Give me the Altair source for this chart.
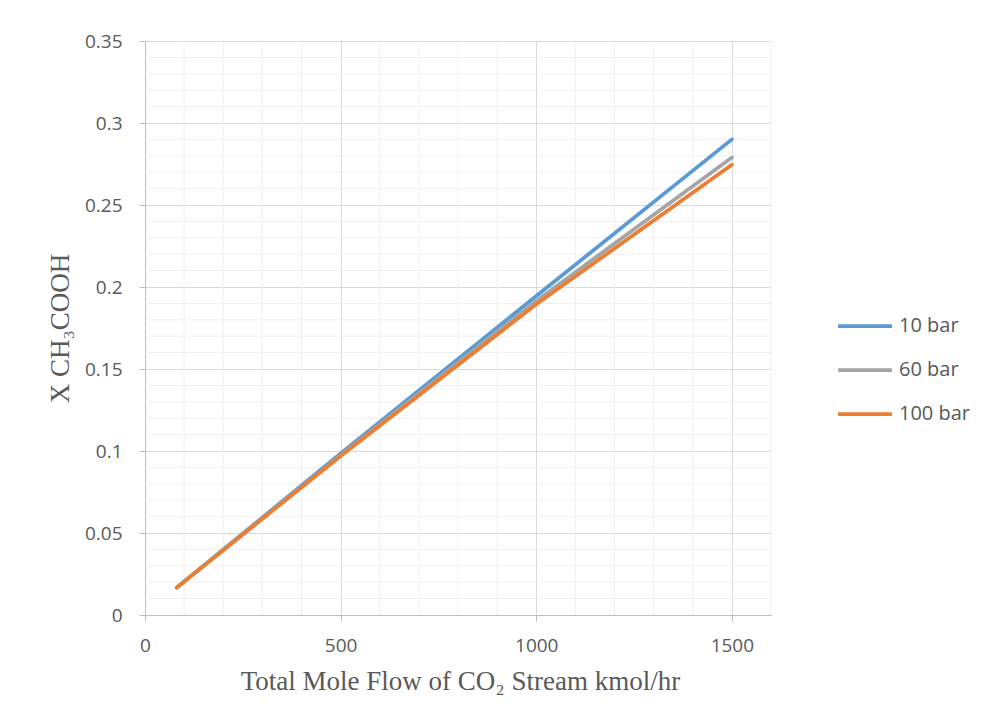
import altair as alt
import pandas as pd

# ---- data ----
flow = [81, 500, 1000, 1500]
x10 = [0.0167, 0.0985, 0.1945, 0.290]
x60 = [0.0167, 0.0975, 0.1915, 0.279]
x100 = [0.0167, 0.0970, 0.1895, 0.2745]
series = ["10 bar", "60 bar", "100 bar"]
colors = ["#5B9BD5", "#A5A5A5", "#ED7D31"]

x_ticks = [0, 500, 1000, 1500]
y_ticks = [0, 0.05, 0.1, 0.15, 0.2, 0.25, 0.3, 0.35]
x_minor = [100, 200, 300, 400, 600, 700, 800, 900, 1100, 1200, 1300, 1400, 1600]
y_minor = [0.01, 0.02, 0.03, 0.04, 0.06, 0.07, 0.08, 0.09, 0.11, 0.12, 0.13, 0.14,
           0.16, 0.17, 0.18, 0.19, 0.21, 0.22, 0.23, 0.24, 0.26, 0.27, 0.28, 0.29,
           0.31, 0.32, 0.33, 0.34]

rows = []
for name, vals in zip(series, [x10, x60, x100]):
    for f, v in zip(flow, vals):
        rows.append({"flow": f, "x": v, "series": name})
df = pd.DataFrame(rows)

LABEL_FONT = "Open Sans"
TITLE_FONT = "Liberation Serif"
TXT = "#595959"

xscale = alt.Scale(domain=[0, 1600], nice=False, zero=False)
yscale = alt.Scale(domain=[0, 0.35], nice=False)

xaxis = alt.Axis(
    values=x_ticks,
    format="d",
    title="Total Mole Flow of CO₂ Stream kmol/hr",
    titleFont=TITLE_FONT,
    titleFontSize=27,
    titleFontWeight="normal",
    titleColor=TXT,
    titlePadding=13,
    titleX=315,
    labelFont=LABEL_FONT,
    labelFontSize=19,
    labelColor=TXT,
    labelPadding=15,
    tickSize=6,
    tickColor="#BFBFBF",
    domainColor="#BFBFBF",
    gridColor="#D9D9D9",
    labelFlush=False,
)
yaxis = alt.Axis(
    values=y_ticks,
    format="~g",
    title="X CH₃COOH",
    titleFont=TITLE_FONT,
    titleFontSize=27,
    titleFontWeight="normal",
    titleColor=TXT,
    titlePadding=10,
    labelFont=LABEL_FONT,
    labelFontSize=19,
    labelColor=TXT,
    labelPadding=17,
    tickSize=6,
    tickColor="#BFBFBF",
    domainColor="#BFBFBF",
    gridColor="#D9D9D9",
    labelFlush=False,
)

vminor = alt.Chart(pd.DataFrame({"flow": x_minor})).mark_rule(
    color="#EFEFEF", strokeWidth=1
).encode(x=alt.X("flow:Q", scale=xscale, axis=xaxis))

hminor = alt.Chart(pd.DataFrame({"x": y_minor})).mark_rule(
    color="#EFEFEF", strokeWidth=1
).encode(y=alt.Y("x:Q", scale=yscale, axis=yaxis))

lines = alt.Chart(df).mark_line(strokeWidth=3.75, strokeCap="round").encode(
    x=alt.X("flow:Q", scale=xscale, axis=xaxis),
    y=alt.Y("x:Q", scale=yscale, axis=yaxis),
    color=alt.Color(
        "series:N",
        scale=alt.Scale(domain=series, range=colors),
        legend=alt.Legend(
            title=None,
            orient="none",
            legendX=691,
            legendY=272,
            symbolType="stroke",
            symbolSize=2900,
            symbolStrokeWidth=3.75,
            labelFont=LABEL_FONT,
            labelFontSize=20,
            labelColor=TXT,
            labelOffset=5,
            clipHeight=26,
            rowPadding=18,
        ),
    ),
    order=alt.Order("flow:Q"),
)

chart = alt.layer(vminor, hminor, lines).properties(
    width=626,
    height=574,
    padding={"left": 145, "top": 41, "right": 211, "bottom": 108},
    autosize=alt.AutoSizeParams(type="none"),
    background="white",
).configure_view(stroke=None)

chart.save("out.html", embed_options={"renderer": "svg", "actions": False})
